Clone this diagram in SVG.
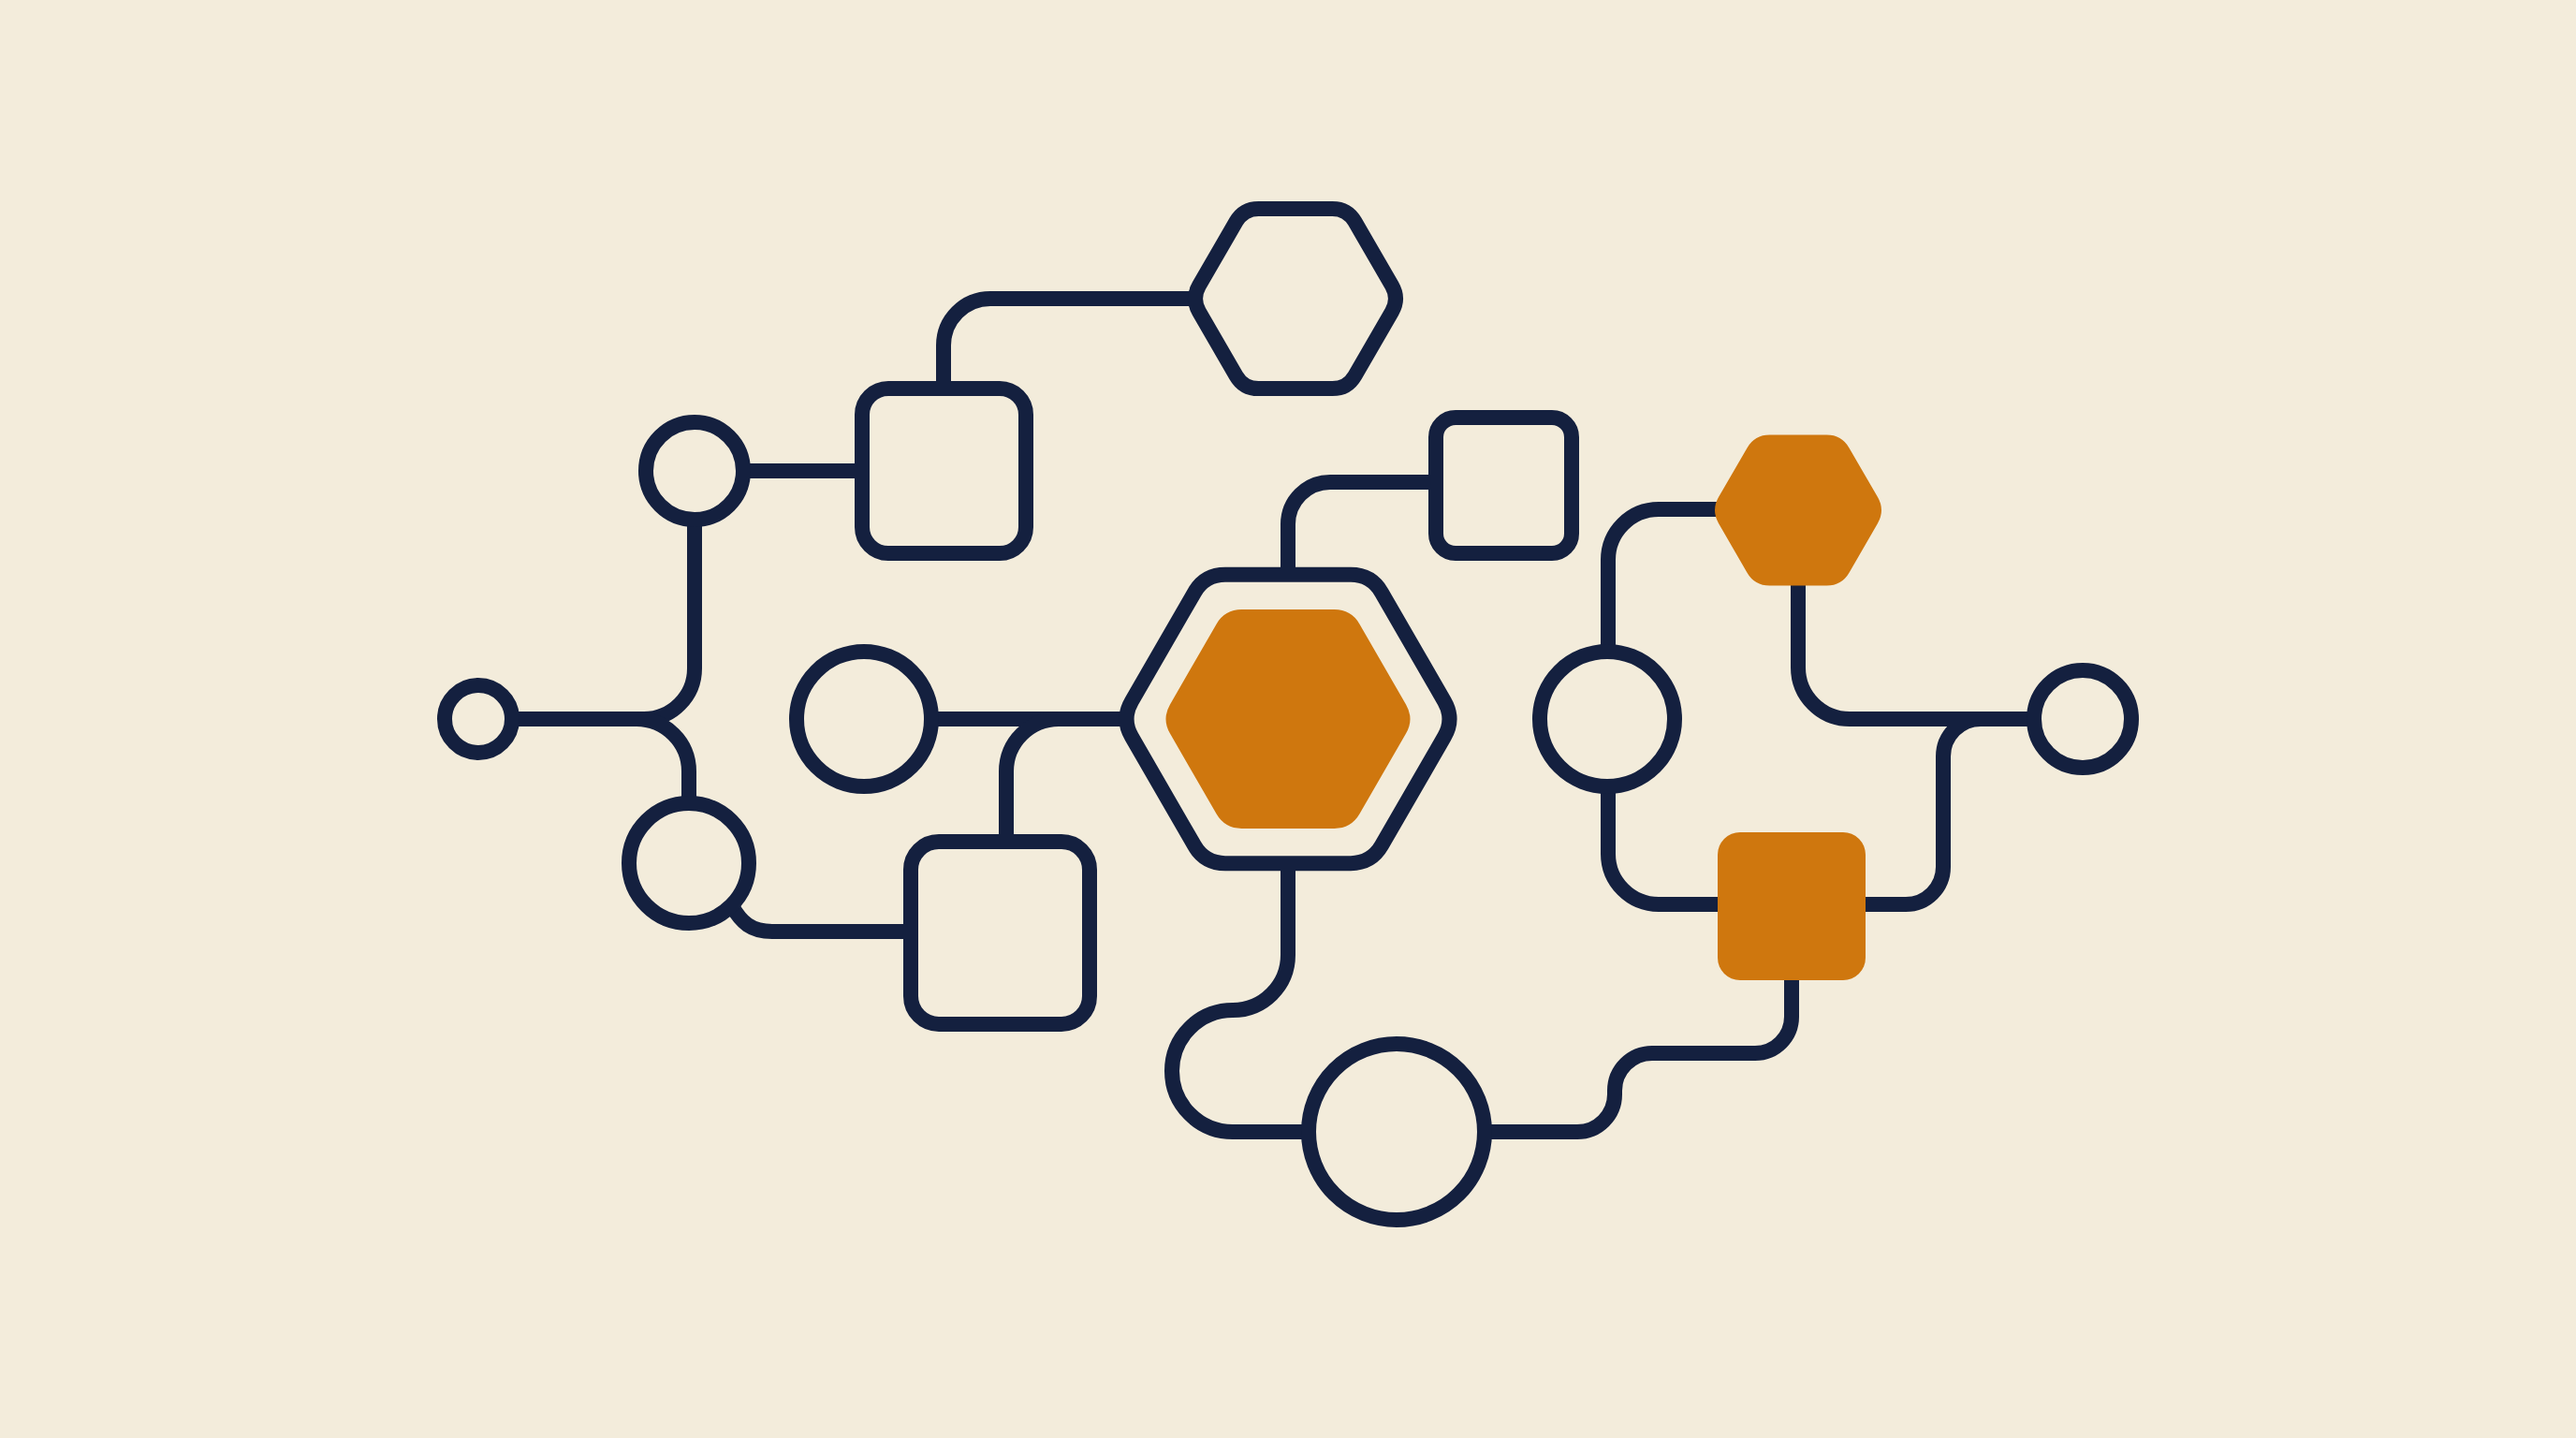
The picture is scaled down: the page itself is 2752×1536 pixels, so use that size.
<svg xmlns="http://www.w3.org/2000/svg" width="2752" height="1536" viewBox="0 0 2752 1536">
<style>
.bg{fill:#F3ECDB}
.ln{fill:none;stroke:#14203F;stroke-width:16;stroke-linecap:butt;stroke-linejoin:round}
.nd{fill:#F3ECDB;stroke:#14203F;stroke-width:16;stroke-linejoin:round}
.or{fill:#CF770E;stroke:none}
</style>
<rect class="bg" x="0" y="0" width="2752" height="1536"/>
<g id="connectors">
<path class="ln" d="M547 768 L688 768 A54 54 0 0 0 742 714 L742 553"/>
<path class="ln" d="M680 768 A56 56 0 0 1 736 824 L736 860"/>
<path class="ln" d="M792 503 L923 503"/>
<path class="ln" d="M1008 417 L1008 369 A50 50 0 0 1 1058 319 L1280 319"/>
<path class="ln" d="M994 768 L1205 768"/>
<path class="ln" d="M1131 768 A56 56 0 0 0 1075 824 L1075 901"/>
<path class="ln" d="M782 968 C792 985 802 995 825 995 L975 995"/>
<path class="ln" d="M1376 616 L1376 560 A45 45 0 0 1 1421 515 L1536 515"/>
<path class="ln" d="M1376 920 L1376 1020 A59 59 0 0 1 1317 1079 A65 65 0 0 0 1317 1209 L1400 1209"/>
<path class="ln" d="M1584 1209 L1685 1209 A40 40 0 0 0 1725 1169 L1725 1165 A40 40 0 0 1 1765 1125 L1875 1125 A39 39 0 0 0 1914 1086 L1914 1040"/>
<path class="ln" d="M1718 694 L1718 598 A54 54 0 0 1 1772 544 L1845 544"/>
<path class="ln" d="M1718 838 L1718 912 A54 54 0 0 0 1772 966 L1845 966"/>
<path class="ln" d="M1985 966 L2036 966 A40 40 0 0 0 2076 926 L2076 808 A40 40 0 0 1 2116 768"/>
<path class="ln" d="M1921 615 L1921 713 A55 55 0 0 0 1976 768 L2175 768"/>
</g>
<g id="node-small-circle"><circle class="nd" cx="511" cy="768" r="36"/></g>
<g id="node-circle-top-left"><circle class="nd" cx="742" cy="503" r="52"/></g>
<g id="node-rect-top-left"><rect class="nd" x="921" y="415" width="175" height="176" rx="28"/></g>
<g id="node-hex-top"><path class="nd" d="M1487 332.9 L1447.5 401.2 Q1439.5 415.1 1423.5 415.1 L1344.5 415.1 Q1328.5 415.1 1320.5 401.2 L1281 332.9 Q1273 319 1281 305.1 L1320.5 236.8 Q1328.5 222.9 1344.5 222.9 L1423.5 222.9 Q1439.5 222.9 1447.5 236.8 L1487 305.1 Q1495 319 1487 332.9 Z"/></g>
<g id="node-rect-small"><rect class="nd" x="1534" y="446" width="145" height="145" rx="21"/></g>
<g id="node-circle-mid-left"><circle class="nd" cx="923" cy="768" r="72"/></g>
<g id="node-circle-lower-left"><circle class="nd" cx="736" cy="922" r="64"/></g>
<g id="node-rect-lower"><rect class="nd" x="973" y="899" width="191" height="195" rx="30"/></g>
<g id="node-hex-center">
<path class="nd" d="M1543 787.05 L1476 903.1 Q1465 922.15 1443 922.15 L1309 922.15 Q1287 922.15 1276 903.1 L1209 787.05 Q1198 768 1209 748.95 L1276 632.9 Q1287 613.85 1309 613.85 L1443 613.85 Q1465 613.85 1476 632.9 L1543 748.95 Q1554 768 1543 787.05 Z"/>
<path class="or" d="M1502 783.6 L1452.5 869.3 Q1443.5 884.9 1425.5 884.9 L1326.5 884.9 Q1308.5 884.9 1299.5 869.3 L1250 783.6 Q1241 768 1250 752.4 L1299.5 666.7 Q1308.5 651.1 1326.5 651.1 L1425.5 651.1 Q1443.5 651.1 1452.5 666.7 L1502 752.4 Q1511 768 1502 783.6 Z"/>
</g>
<g id="node-circle-bottom"><circle class="nd" cx="1492" cy="1209" r="94"/></g>
<g id="node-circle-mid-right"><circle class="nd" cx="1717" cy="768" r="72"/></g>
<g id="node-hex-orange"><path class="or" d="M2006 558.9 L1975.5 611.7 Q1967.5 625.5 1951.5 625.5 L1890.5 625.5 Q1874.5 625.5 1866.5 611.7 L1836 558.9 Q1828 545 1836 531.1 L1866.5 478.4 Q1874.5 464.5 1890.5 464.5 L1951.5 464.5 Q1967.5 464.5 1975.5 478.4 L2006 531.1 Q2014 545 2006 558.9 Z"/></g>
<g id="node-rect-orange"><rect class="or" x="1835" y="889" width="158" height="158" rx="24"/></g>
<g id="node-circle-right"><circle class="nd" cx="2225" cy="768" r="52"/></g>
</svg>
